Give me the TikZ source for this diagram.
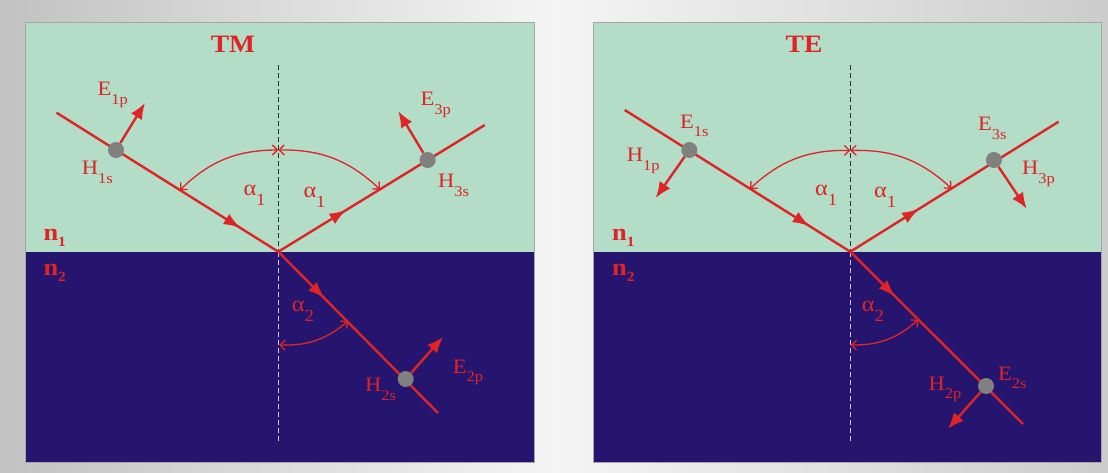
\documentclass[tikz,border=0pt]{standalone}
\usepackage{fontspec}
\setmainfont[FakeStretch=1.1]{Liberation Serif}
\usetikzlibrary{arrows.meta,decorations.markings}
\definecolor{bgreen}{RGB}{180,221,200}
\definecolor{navy}{RGB}{38,21,110}
\definecolor{rred}{RGB}{222,36,36}
\definecolor{dotgray}{RGB}{128,128,128}
\definecolor{dashdark}{RGB}{40,50,50}
\definecolor{dashlight}{RGB}{205,200,235}
\newcommand\elab[2]{#1\raisebox{-8.5pt}{\fontsize{15}{16}\selectfont #2}}
\newcommand\alab[1]{α\raisebox{-10pt}{\fontsize{17}{18}\selectfont #1}}
\newcommand\nlab[1]{n\raisebox{-6pt}{\fontsize{14}{15}\selectfont #1}}
\tikzset{
  ray/.style={draw=rred, line width=2.4pt},
  midarrow/.style={postaction={decorate}, decoration={markings, mark=at position #1 with {\arrow{Latex[length=17pt,width=12pt]}}}},
  vec/.style={draw=rred, line width=2.4pt, -{Latex[length=16pt,width=13pt]}},
  angarc/.style={draw=rred, line width=1.3pt, {Straight Barb[length=5pt,width=10pt]}-{Straight Barb[length=5pt,width=10pt]}},
  lbl/.style={text=rred, inner sep=0pt, anchor=base west, font=\fontsize{20.5}{22}\selectfont},
  albl/.style={text=rred, inner sep=0pt, anchor=base west, font=\fontsize{22}{24}\selectfont},
  nlbl/.style={text=rred, inner sep=0pt, anchor=base west, font=\fontsize{24}{26}\selectfont\bfseries},
  ttl/.style={text=rred, inner sep=0pt, anchor=base, font=\fontsize{25}{27}\selectfont\bfseries},
  dotnode/.style={circle, fill=dotgray, minimum size=16pt, inner sep=0pt},
  normup/.style={draw=dashdark, line width=1.2pt, dash pattern=on 5pt off 3pt},
  normdown/.style={draw=dashlight, line width=1.2pt, dash pattern=on 5pt off 3pt},
  panelbox/.style={draw=gray!70, line width=0.8pt}
}
\begin{document}
\begin{tikzpicture}[x=1pt,y=-1pt]
\useasboundingbox (0,0) rectangle (1108,473);
\shade[left color=black!24, right color=black!20, middle color=black!4] (0,0) rectangle (1108,473);

% ================= TM panel =================
\fill[bgreen] (25.4,22.7) rectangle (534,251.7);
\fill[navy] (25.4,251.7) rectangle (534,462.7);
\draw[panelbox] (25.4,22.7) rectangle (534,462.7);

\coordinate (mO) at (278.3,251.7);
\coordinate (mTop) at (278.3,65);
\coordinate (mBot) at (278.3,441.7);
\draw[normup] (mTop) -- (mO);
\draw[normdown] (mO) -- (mBot);

\coordinate (mA) at (56.5,112.7);
\coordinate (mB) at (484.8,125);
\coordinate (mT) at (438,413);
\draw[ray, midarrow=0.83] (mA) -- (mO);
\draw[ray, midarrow=0.33] (mO) -- (mB);
\draw[ray, midarrow=0.29] (mO) -- (mT);

% angle arcs
\coordinate (mC) at (278.3,150);
\coordinate (mL) at (180,190);
\coordinate (mR) at (380,189.4);
\draw[angarc] (mL) to[bend left=22] (mC);
\draw[angarc] (mC) to[bend left=22] (mR);
\coordinate (mD2) at (279.3,345);
\coordinate (mT2) at (348,321);
\draw[angarc] (mD2) to[bend right=21] (mT2);

% field vectors
\node[dotnode] (m1) at (116,150) {};
\node[dotnode] (m3) at (427.6,160) {};
\node[dotnode] (m2) at (405.7,379) {};
\coordinate (mE1) at (145,103);
\coordinate (mE3) at (398.3,111.3);
\coordinate (mE2) at (443,337);
\draw[vec] (m1) -- (mE1);
\draw[vec] (m3) -- (mE3);
\draw[vec] (m2) -- (mE2);

% labels
\node[ttl] (mtitle) at (233,52.3) {TM};
\node[lbl] (mlE1) at (97.3,95.7) {\elab{E}{1p}};
\node[lbl] (mlH1) at (81.7,175) {\elab{H}{1s}};
\node[lbl] (mlE3) at (420.5,106) {\elab{E}{3p}};
\node[lbl] (mlH3) at (438,188) {\elab{H}{3s}};
\node[lbl] (mlH2) at (365,391.5) {\elab{H}{2s}};
\node[lbl] (mlE2) at (452.7,373.3) {\elab{E}{2p}};
\node[albl] (mla1) at (243.3,196) {\alab{1}};
\node[albl] (mla1r) at (303.3,197) {\alab{1}};
\node[albl] (mla2) at (291.7,311.7) {\alab{2}};
\node[nlbl] (mn1) at (43.3,240.7) {\nlab{1}};
\node[nlbl] (mn2) at (43.3,275) {\nlab{2}};

% ================= TE panel =================
\fill[bgreen] (592.9,22.7) rectangle (1101,251.7);
\fill[navy] (592.9,251.7) rectangle (1101,462.7);
\draw[panelbox] (592.9,22.7) rectangle (1101,462.7);

\coordinate (eO) at (850.3,251.7);
\coordinate (eTop) at (850.3,65);
\coordinate (eBot) at (850.3,441.7);
\draw[normup] (eTop) -- (eO);
\draw[normdown] (eO) -- (eBot);

\coordinate (eA) at (624.7,110);
\coordinate (eB) at (1058.6,121.7);
\coordinate (eT) at (1023,424);
\draw[ray, midarrow=0.82] (eA) -- (eO);
\draw[ray, midarrow=0.33] (eO) -- (eB);
\draw[ray, midarrow=0.26] (eO) -- (eT);

\coordinate (eC) at (850.3,150.5);
\coordinate (eL) at (750,188.7);
\coordinate (eR) at (951.5,188.4);
\draw[angarc] (eL) to[bend left=22] (eC);
\draw[angarc] (eC) to[bend left=22] (eR);
\coordinate (eD2) at (850.7,345);
\coordinate (eT2) at (918.3,319.7);
\draw[angarc] (eD2) to[bend right=21] (eT2);

\node[dotnode] (e1) at (689.3,150) {};
\node[dotnode] (e3) at (993.9,160) {};
\node[dotnode] (e2) at (986,386) {};
\coordinate (eH1) at (655.7,198);
\coordinate (eH3) at (1026.7,208.7);
\coordinate (eH2) at (948,428.7);
\draw[vec] (e1) -- (eH1);
\draw[vec] (e3) -- (eH3);
\draw[vec] (e2) -- (eH2);

\node[ttl] (etitle) at (804,52.3) {TE};
\node[lbl] (elE1) at (680,128.3) {\elab{E}{1s}};
\node[lbl] (elH1) at (626.7,161.7) {\elab{H}{1p}};
\node[lbl] (elE3) at (978,131) {\elab{E}{3s}};
\node[lbl] (elH3) at (1022,175) {\elab{H}{3p}};
\node[lbl] (elE2) at (998,380) {\elab{E}{2s}};
\node[lbl] (elH2) at (928.3,390) {\elab{H}{2p}};
\node[albl] (ela1) at (815,196) {\alab{1}};
\node[albl] (ela1r) at (874,197) {\alab{1}};
\node[albl] (ela2) at (861.7,311.7) {\alab{2}};
\node[nlbl] (en1) at (612,240.7) {\nlab{1}};
\node[nlbl] (en2) at (612,275) {\nlab{2}};
\end{tikzpicture}
\end{document}
